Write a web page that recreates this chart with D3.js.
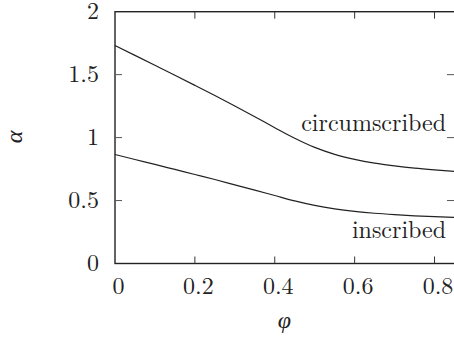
<!DOCTYPE html>
<html>
<head>
<meta charset="utf-8">
<script src="https://cdn.jsdelivr.net/npm/d3@7"></script>
<style>
  body { margin: 0; background: #fff; }
</style>
</head>
<body>
<div id="chart"></div>
<script>
const phi = [0, 0.05, 0.1, 0.15, 0.2, 0.25, 0.3, 0.35, 0.4, 0.45, 0.5, 0.55, 0.6, 0.65, 0.7, 0.75, 0.8, 0.85];
const circumscribed = [1.732, 1.653, 1.574, 1.495, 1.415, 1.334, 1.251, 1.166, 1.079, 0.995, 0.922, 0.867, 0.827, 0.797, 0.775, 0.757, 0.743, 0.731];
const inscribed = [0.866, 0.826, 0.787, 0.747, 0.707, 0.667, 0.625, 0.583, 0.540, 0.497, 0.461, 0.434, 0.414, 0.399, 0.388, 0.379, 0.372, 0.366];
const xTicks = [0, 0.2, 0.4, 0.6, 0.8];
const yTicks = [0, 0.5, 1, 1.5, 2];
const curveLabels = [
  { text: "circumscribed", x: 0.829, y: 1.055 },
  { text: "inscribed", x: 0.829, y: 0.205 }
];

const width = 454;
const height = 345;
const plotLeft = 115, plotRight = 455, plotTop = 11.7, plotBottom = 263.5;
const serif = "'Latin Modern Roman', 'CMU Serif', 'Liberation Serif', 'Noto Serif', 'Tinos', 'Nimbus Roman', 'FreeSerif', 'Times New Roman', Times, Georgia, 'DejaVu Serif', serif";
const fontSize = 24;

const svg = d3.select('#chart')
  .append('svg')
    .attr('width', width)
    .attr('height', height)
    .style('font-family', serif);

const x = d3.scaleLinear().domain([0, 0.85]).range([plotLeft, 454.5]);
const y = d3.scaleLinear().domain([0, 2]).range([plotBottom, plotTop]);

// frame
svg.append('rect')
    .attr('x', plotLeft)
    .attr('y', plotTop)
    .attr('width', plotRight - plotLeft)
    .attr('height', plotBottom - plotTop)
    .attr('fill', 'none')
    .attr('stroke', '#222')
    .attr('stroke-width', 1.4);

const tickLen = 7;
const innerX = xTicks.filter(d => d > 0);
const innerY = yTicks.filter(d => d > 0 && d < 2);

// ticks, pointing inward on all four sides
svg.append('g').selectAll('line')
  .data(innerX)
  .join('line')
    .attr('x1', d => x(d)).attr('x2', d => x(d))
    .attr('y1', plotBottom).attr('y2', plotBottom - tickLen)
    .attr('stroke', '#333');
svg.append('g').selectAll('line')
  .data(innerX)
  .join('line')
    .attr('x1', d => x(d)).attr('x2', d => x(d))
    .attr('y1', plotTop).attr('y2', plotTop + tickLen)
    .attr('stroke', '#333');
svg.append('g').selectAll('line')
  .data(innerY)
  .join('line')
    .attr('x1', plotLeft).attr('x2', plotLeft + tickLen)
    .attr('y1', d => y(d)).attr('y2', d => y(d))
    .attr('stroke', '#555');
svg.append('g').selectAll('line')
  .data(innerY)
  .join('line')
    .attr('x1', 454).attr('x2', 454 - tickLen)
    .attr('y1', d => y(d)).attr('y2', d => y(d))
    .attr('stroke', '#555');

// tick labels
svg.append('g').selectAll('text')
  .data(xTicks)
  .join('text')
    .attr('x', d => x(d) + 3.5)
    .attr('y', 294)
    .attr('text-anchor', 'middle')
    .attr('font-size', fontSize)
    .attr('fill', '#222')
    .text(d => d);
svg.append('g').selectAll('text')
  .data(yTicks)
  .join('text')
    .attr('x', 99)
    .attr('y', d => y(d) + 7)
    .attr('text-anchor', 'end')
    .attr('font-size', fontSize)
    .attr('fill', '#222')
    .text(d => d);

// axis titles
svg.append('text')
    .attr('x', (plotLeft + 454) / 2)
    .attr('y', 328)
    .attr('text-anchor', 'middle')
    .attr('font-size', fontSize)
    .attr('font-style', 'italic')
    .attr('fill', '#222')
    .text('\u03C6');
svg.append('text')
    .attr('transform', 'translate(22,137) rotate(-90)')
    .attr('text-anchor', 'middle')
    .attr('font-size', fontSize)
    .attr('font-style', 'italic')
    .attr('fill', '#222')
    .text('\u03B1');

// curves
const line = d3.line()
  .x((d, i) => x(phi[i]))
  .y(d => y(d))
  .curve(d3.curveMonotoneX);

[circumscribed, inscribed].forEach(series => {
  svg.append('path')
      .attr('d', line(series))
      .attr('fill', 'none')
      .attr('stroke', '#222')
      .attr('stroke-width', 1.2);
});

svg.append('g').selectAll('text')
  .data(curveLabels)
  .join('text')
    .attr('x', d => x(d.x))
    .attr('y', d => y(d.y))
    .attr('text-anchor', 'end')
    .attr('font-size', fontSize)
    .attr('fill', '#222')
    .text(d => d.text);
</script>
</body>
</html>
